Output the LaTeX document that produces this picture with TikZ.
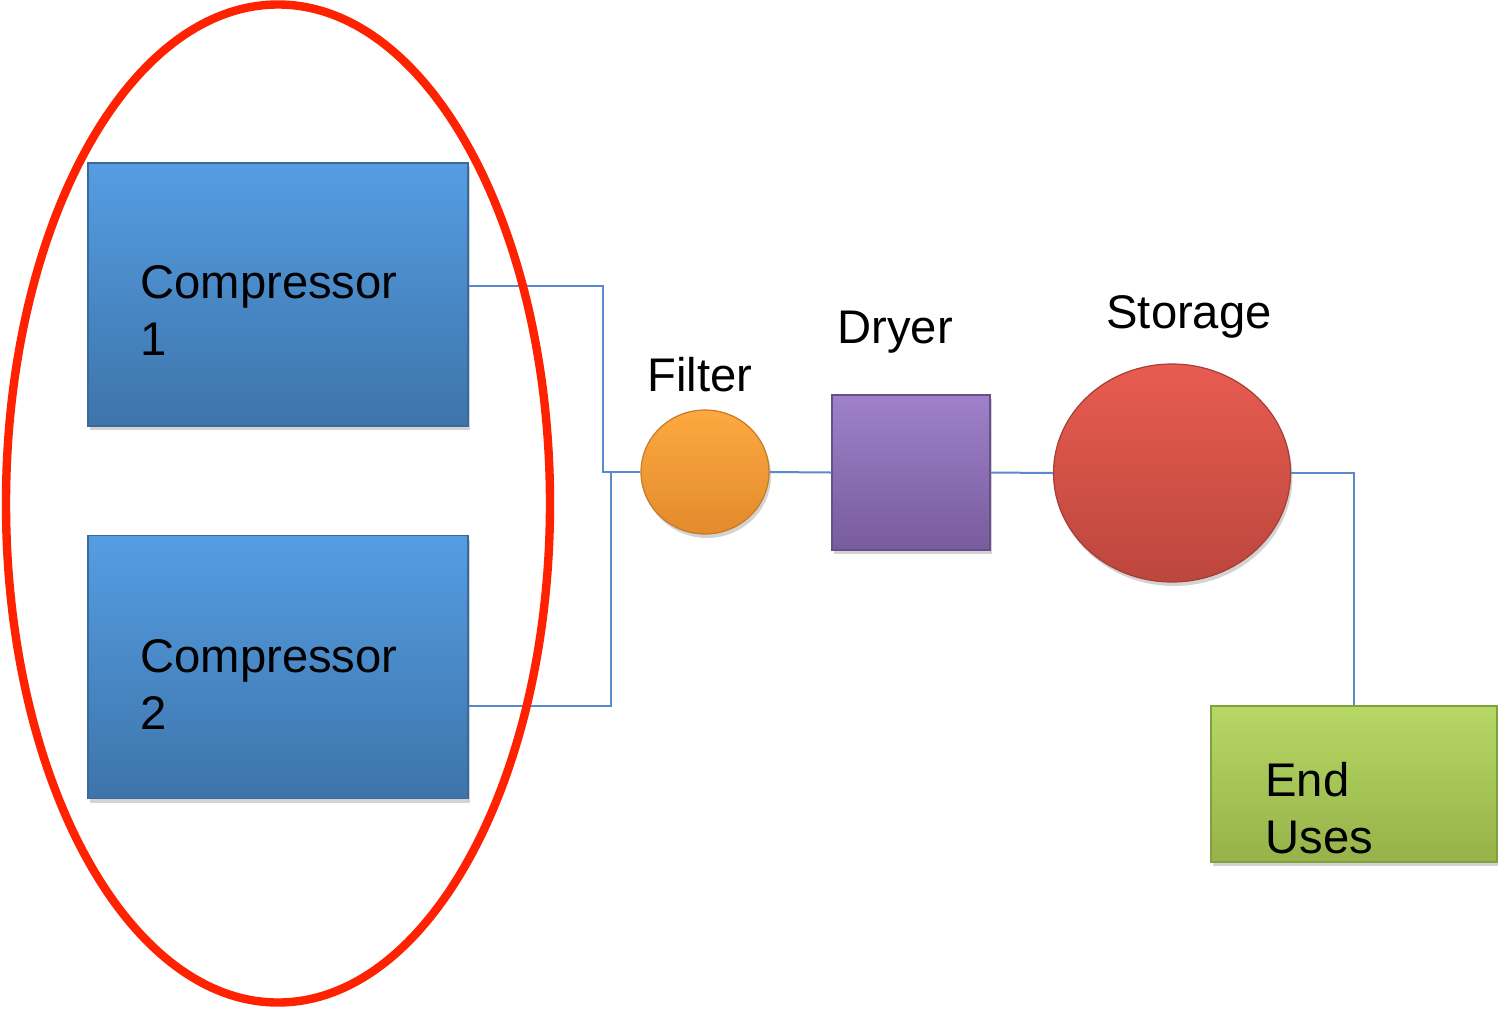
\documentclass[tikz,border=0pt]{standalone}
\usepackage{fontspec}
\setmainfont{Liberation Sans}
\usetikzlibrary{shapes.geometric,shadows}
\definecolor{blueT}{HTML}{559DE2}
\definecolor{blueB}{HTML}{3D74AA}
\definecolor{blueE}{HTML}{3A6A9C}
\definecolor{orT}{HTML}{FDA840}
\definecolor{orB}{HTML}{E38B2D}
\definecolor{orE}{HTML}{C77A28}
\definecolor{puT}{HTML}{9E81CA}
\definecolor{puB}{HTML}{785C9D}
\definecolor{puE}{HTML}{67508A}
\definecolor{reT}{HTML}{E85C51}
\definecolor{reB}{HTML}{BC463D}
\definecolor{reE}{HTML}{A53E36}
\definecolor{grT}{HTML}{B6D865}
\definecolor{grB}{HTML}{96B249}
\definecolor{grE}{HTML}{83A03E}
\definecolor{link}{HTML}{5A8ACB}
\definecolor{ring}{HTML}{FF2200}
\tikzset{
  shade3d/.style={drop shadow={opacity=0.35,shadow xshift=1pt,shadow yshift=-2pt}},
  bluebox/.style={rectangle,inner sep=0pt,minimum width=190pt,minimum height=131.5pt,
    top color=blueT,bottom color=blueB,draw=blueE,line width=0.8pt,shade3d},
  lbl/.style={inner sep=0pt,anchor=base west,font=\fontsize{23.6}{28.5}\selectfont,align=left},
  conn/.style={draw=link,line width=1pt},
}
\begin{document}
\begin{tikzpicture}[x=0.5pt,y=-0.5pt]
\useasboundingbox (0,0) rectangle (1498,1008);
% compressors
\node[bluebox] (c1) at (278,294.5) {};
\node[bluebox] (c2) at (278,667) {};
\node[lbl] (t1) at (140,355) {Compressor\\1};
\node[lbl] (t2) at (140,729) {Compressor\\2};
% filter
\node[ellipse,inner sep=0pt,minimum width=64pt,minimum height=62pt,
  top color=orT,bottom color=orB,draw=orE,line width=0.6pt,shade3d] (filter) at (705,472) {};
\node[lbl] (tf) at (647,391) {Filter};
% dryer
\node[rectangle,inner sep=0pt,minimum width=79pt,minimum height=77.5pt,
  top color=puT,bottom color=puB,draw=puE,line width=0.6pt,shade3d] (dryer) at (911,472.5) {};
\node[lbl] (td) at (837,343) {Dryer};
% storage
\node[ellipse,inner sep=0pt,minimum width=118.5pt,minimum height=109pt,
  top color=reT,bottom color=reB,draw=reE,line width=0.6pt,shade3d] (storage) at (1172,473) {};
\node[lbl] (ts) at (1106,328) {Storage};
% end uses
\node[rectangle,inner sep=0pt,minimum width=143pt,minimum height=78pt,
  top color=grT,bottom color=grB,draw=grE,line width=0.6pt,shade3d] (eu) at (1354,784) {};
\node[lbl] (te) at (1265,853) {End\\Uses};
% connectors
\coordinate (ja) at (603,472);
\coordinate (jb) at (611,472);
\draw[conn] (c1.east |- 0,286) -| (ja) -- (filter.west);
\draw[conn] (c2.east |- 0,706) -| (jb);
\draw[conn] (filter.east) -- (dryer.west);
\draw[conn] (dryer.east) -- (storage.west);
\draw[conn] (storage.east) -| (eu.north);
% red ring
\draw[ring,line width=4.2pt] (278,503.5) ellipse [x radius=272, y radius=499];
\end{tikzpicture}
\end{document}
